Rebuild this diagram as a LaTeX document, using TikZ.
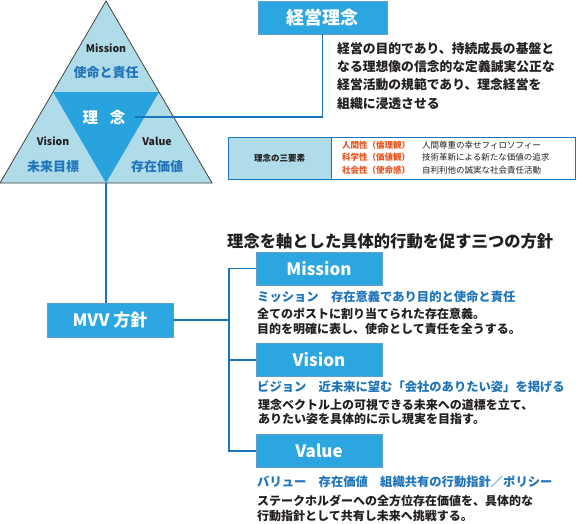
\documentclass[tikz,border=0pt]{standalone}
\usepackage{fontspec}
\setmainfont{Noto Sans CJK JP}
\definecolor{lightb}{RGB}{176,220,234}
\definecolor{midb}{RGB}{41,163,221}
\definecolor{boxb}{RGB}{43,166,224}
\definecolor{lineb}{RGB}{27,117,187}
\definecolor{txtb}{RGB}{31,116,186}
\definecolor{dark}{RGB}{35,31,32}
\definecolor{orng}{RGB}{232,84,30}
\newcommand{\fs}[2]{\fontsize{#1}{#2}\selectfont}
\begin{document}
\begin{tikzpicture}[x=1pt,y=-1pt,
  conn/.style={draw=lineb,line width=1.4pt},
  bluebox/.style={draw=lineb!70,fill=boxb,text=white,inner sep=0pt,minimum width=126pt,minimum height=33pt,font=\bfseries\fs{17}{20}},
  trilab/.style={text=dark,inner sep=0pt,font=\bfseries\fs{10.5}{12}},
  trijp/.style={text=txtb,inner sep=0pt,font=\bfseries\fs{13}{15}},
  subt/.style={text=txtb,inner sep=0pt,anchor=west,font=\bfseries\fs{12.3}{14}},
  desc/.style={text=dark,inner sep=0pt,anchor=north west,align=left,font=\bfseries\fs{12}{14.5}},
  orow/.style={text=orng,inner sep=0pt,anchor=west,font=\bfseries\fs{8.5}{10}},
  krow/.style={text=dark,inner sep=0pt,anchor=west,font=\fs{8.5}{10}}]
\useasboundingbox (0,0) rectangle (577,523);
% triangle
\fill[lightb] (0,183)--(106,1)--(212,183)--cycle;
\fill[midb] (53,92)--(159,92)--(106,183)--cycle;
\draw[dark!85,line width=0.8pt] (0,183)--(106,1)--(212,183)--cycle;
\node[trilab] (tmis) at (106,48) {Mission};
\node[trijp] (tmisj) at (106,73) {使命と責任};
\node[text=white,inner sep=0pt,font=\bfseries\fs{15.5}{18}] (rinen) at (104,117) {理\hspace{0.75em}念};
\node[trilab] (tvis) at (53,141) {Vision};
\node[trijp] (tvisj) at (53,167) {未来目標};
\node[trilab] (tval) at (157,141) {Value};
\node[trijp] (tvalj) at (157,167) {存在価値};
\coordinate (tbot) at (106,183);
% keiei rinen
\node[bluebox,minimum width=129pt,font=\bfseries\fs{18}{20}] (keiei) at (322.5,17.5) {経営理念};
\draw[conn] ([xshift=9pt]rinen.east) -| (keiei.south);
\node[text=dark,inner sep=0pt,anchor=north west,align=left,font=\bfseries\fs{12.8}{18.3}] (kdesc) at (337,42)
  {経営の目的であり、持続成長の基盤と\\なる理想像の信念的な定義誠実公正な\\経営活動の規範であり、理念経営を\\組織に浸透させる};
% table
\node[draw=lineb,line width=0.9pt,fill=lightb,minimum width=103pt,minimum height=42pt,inner sep=0pt,text=dark,font=\bfseries\fs{8.5}{10}] (t3) at (279.5,158) {理念の三要素};
\node[draw=lineb,line width=0.9pt,fill=white,minimum width=244pt,minimum height=42pt,inner sep=0pt,anchor=west] (t3r) at (t3.east) {};
\node[orow] (o1) at (342,145) {人間性（倫理観）};
\node[orow] (o2) at (342,157.5) {科学性（価値観）};
\node[orow] (o3) at (342,170) {社会性（使命感）};
\node[krow] (k1) at (422,145) {人間尊重の幸せフィロソフィー};
\node[krow] (k2) at (422,157.5) {技術革新による新たな価値の追求};
\node[krow] (k3) at (422,170) {自利利他の誠実な社会責任活動};
% MVV
\node[bluebox,minimum height=34pt] (mvv) at (110,320) {MVV 方針};
\draw[conn] (tbot) -- (tbot |- mvv.north);
\node[text=dark,inner sep=0pt,anchor=west,font=\bfseries\fs{16.3}{18}] (title) at (227,241) {理念を軸とした具体的行動を促す三つの方針};
\node[bluebox] (bmis) at (319,268.5) {Mission};
\node[bluebox] (bvis) at (319,360) {Vision};
\node[bluebox] (bval) at (319,451) {Value};
\coordinate (tk1) at (229,268.5);
\coordinate (tk3) at (229,451);
\draw[conn] (bmis.west) -- (tk1) -- (tk3) -- (bval.west);
\draw[conn] (bvis.west) -- (bvis.west -| tk1);
\draw[conn] (mvv.east) -- (mvv.east -| tk1);
% texts
\node[subt] (smis) at (257,297) {ミッション　存在意義であり目的と使命と責任};
\node[desc] (dmis) at (257,308) {全てのポストに割り当てられた存在意義。\\目的を明確に表し、使命として責任を全うする。};
\node[subt] (svis) at (257,387) {ビジョン　近未来に望む「会社のありたい姿」を掲げる};
\node[desc] (dvis) at (258,399) {理念ベクトル上の可視できる未来への道標を立て、\\ありたい姿を具体的に示し現実を目指す。};
\node[subt] (sval) at (257,482) {バリュー　存在価値　組織共有の行動指針／ポリシー};
\node[desc] (dval) at (257,495) {ステークホルダーへの全方位存在価値を、具体的な\\行動指針として共有し未来へ挑戦する。};
\end{tikzpicture}
\end{document}
